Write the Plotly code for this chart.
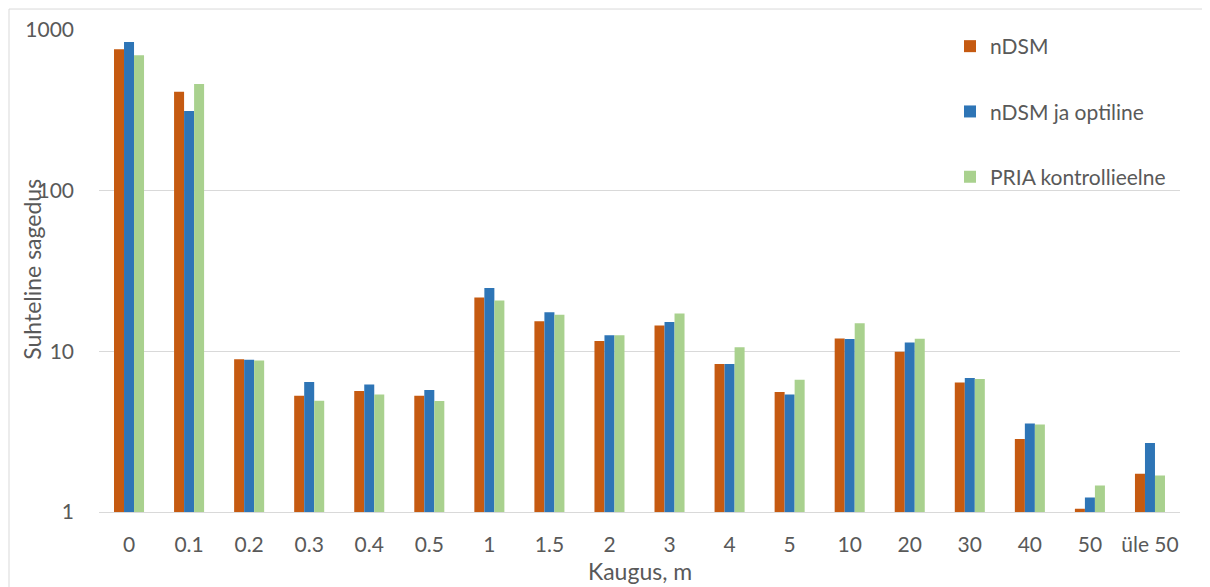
import plotly.graph_objects as go

categories = ["0", "0.1", "0.2", "0.3", "0.4", "0.5", "1", "1.5", "2", "3", "4", "5",
              "10", "20", "30", "40", "50", "üle 50"]
ndsm = [759, 412, 8.94, 5.29, 5.66, 5.29, 21.6, 15.4, 11.6, 14.5, 8.33, 5.58,
        12.0, 9.93, 6.40, 2.85, 1.047, 1.73]
ndsm_opt = [842, 313, 8.86, 6.44, 6.22, 5.74, 24.8, 17.5, 12.6, 15.2, 8.33, 5.39,
            11.95, 11.34, 6.82, 3.55, 1.23, 2.69]
pria = [697, 462, 8.77, 4.93, 5.39, 4.91, 20.7, 16.9, 12.6, 17.2, 10.6, 6.65,
        14.97, 11.96, 6.72, 3.50, 1.46, 1.69]
series_names = ["nDSM", "nDSM ja optiline", "PRIA kontrollieelne"]
series_colors = ["#C55A11", "#2E75B6", "#A9D18E"]
y_ticks = [1, 10, 100, 1000]
x_title = "Kaugus, m"
y_title = "Suhteline sagedus"

FONT = "Lato"
FS = 21
FS_T = 23
TXT = "#595959"
GRID = "#D9D9D9"

fig = go.Figure()
for i, (name, vals, col) in enumerate(zip(series_names, [ndsm, ndsm_opt, pria], series_colors)):
    fig.add_trace(go.Bar(x=categories, y=vals, name=name, legendgroup=f"g{i}",
                         marker=dict(color=col, line=dict(width=0))))

# page body has an 8px offset; figure coordinates are relative to that
OFF = 8
W, H = 1210 - OFF, 587 - OFF
ml, mr, mt, mb = 99 - OFF, 30, 30 - OFF, 74.5
pw, ph = W - ml - mr, H - mt - mb

def px_x(p):
    return (p - OFF - ml) / pw

def px_y(p):
    return (H - mb - (p - OFF)) / ph

fig.update_layout(
    width=W, height=H,
    margin=dict(l=ml, r=mr, t=mt, b=mb, autoexpand=False),
    paper_bgcolor="white", plot_bgcolor="white",
    font=dict(family=FONT, size=FS, color=TXT),
    barmode="group", bargap=0.5, bargroupgap=0,
    legend=dict(x=px_x(950), y=px_y(26), xanchor="left", yanchor="top",
                tracegroupgap=35, bgcolor="rgba(0,0,0,0)",
                font=dict(family=FONT, size=FS, color=TXT)),
    xaxis=dict(showgrid=False, showline=True, linecolor=GRID, linewidth=1,
               ticks="", ticklabelstandoff=14, tickfont=dict(size=FS, color=TXT)),
    yaxis=dict(type="log", range=[0, 3], tickvals=y_ticks, ticktext=[str(v) for v in y_ticks],
               showgrid=True, gridcolor=GRID, gridwidth=1, zeroline=False, showline=False,
               ticks="", ticklabelstandoff=24, tickfont=dict(size=FS, color=TXT)),
    annotations=[
        dict(text=x_title, xref="paper", yref="paper", x=px_x(639.5), y=px_y(572),
             xanchor="center", yanchor="middle", showarrow=False,
             font=dict(family=FONT, size=FS_T, color=TXT)),
        dict(text=y_title, xref="paper", yref="paper", x=px_x(32), y=px_y(270),
             xanchor="center", yanchor="middle", textangle=-90, showarrow=False,
             font=dict(family=FONT, size=FS_T, color=TXT)),
    ],
    shapes=[dict(type="rect", xref="paper", yref="paper",
                 x0=px_x(9), x1=px_x(1230), y0=px_y(610), y1=px_y(9),
                 line=dict(color=GRID, width=1), fillcolor="rgba(0,0,0,0)", layer="below")],
)

fig.write_html("out.html")
